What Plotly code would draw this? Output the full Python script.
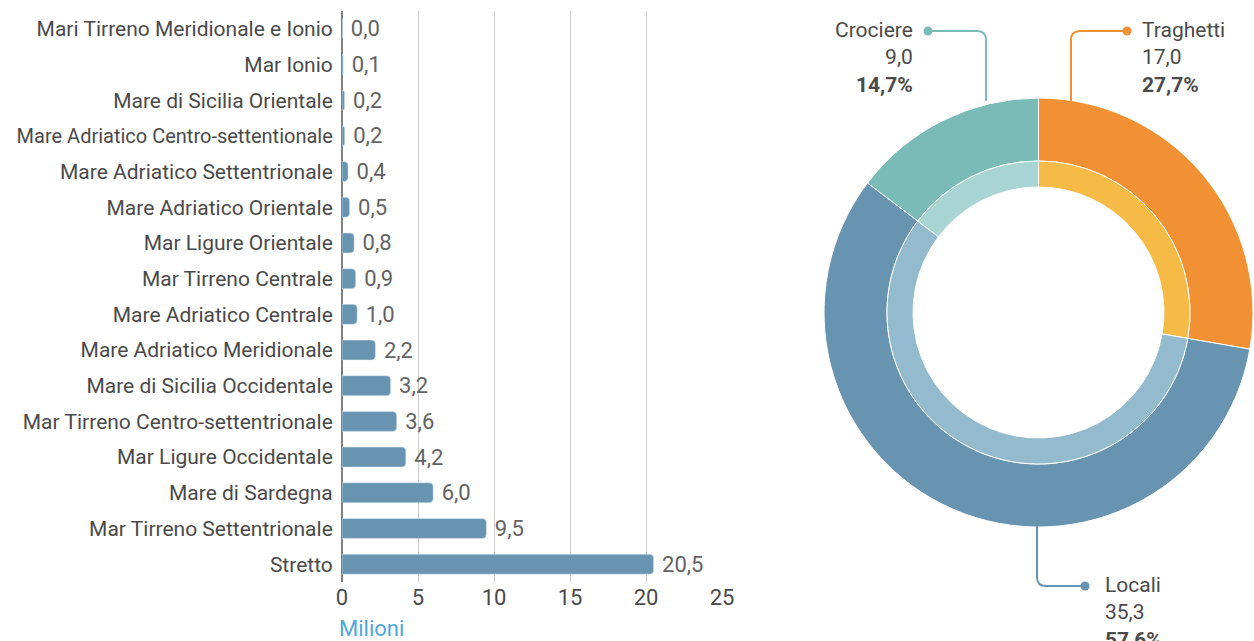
import plotly.graph_objects as go
import math

W, H = 1254, 641

categories = [
    "Mari Tirreno Meridionale e Ionio",
    "Mar Ionio",
    "Mare di Sicilia Orientale",
    "Mare Adriatico Centro-settentionale",
    "Mare Adriatico Settentrionale",
    "Mare Adriatico Orientale",
    "Mar Ligure Orientale",
    "Mar Tirreno Centrale",
    "Mare Adriatico Centrale",
    "Mare Adriatico Meridionale",
    "Mare di Sicilia Occidentale",
    "Mar Tirreno Centro-settentrionale",
    "Mar Ligure Occidentale",
    "Mare di Sardegna",
    "Mar Tirreno Settentrionale",
    "Stretto",
]
values = [0.02, 0.08, 0.17, 0.18, 0.4, 0.5, 0.8, 0.9, 1.0, 2.2, 3.2, 3.6, 4.2, 6.0, 9.5, 20.5]
value_labels = ["0,0", "0,1", "0,2", "0,2", "0,4", "0,5", "0,8", "0,9", "1,0", "2,2", "3,2", "3,6", "4,2", "6,0", "9,5", "20,5"]
x_ticks = [0, 5, 10, 15, 20, 25]

pie_labels = ["Traghetti", "Locali", "Crociere"]
pie_values = [17.0, 35.3, 9.0]
pie_value_text = ["17,0", "35,3", "9,0"]
pie_pct_text = ["27,7%", "57,6%", "14,7%"]
outer_colors = ["#F29134", "#6894B2", "#7ABBB7"]
inner_colors = ["#F6BA47", "#93BBCD", "#A8D5D3"]

FONT = "Roboto"
FS = 21
FN = 22
TXT = "#4a4a4a"

def px(x):
    return x / W

def py(y):
    return 1 - y / H

# the longest label is drawn slightly condensed, as in the original
tick_text = [f'<span style="font-size:20px">{c}</span>' if len(c) > 33 else c for c in categories]

fig = go.Figure()

fig.add_trace(go.Bar(
    y=categories, x=values, orientation="h",
    marker=dict(color="#6894B2", cornerradius=4),
    width=0.56,
    text=value_labels, texttemplate=" %{text}", textposition="outside", constraintext="none",
    textfont=dict(family=FONT, size=FN, color="#636363"),
    cliponaxis=False, showlegend=False, hoverinfo="skip",
))

# donut
cx, cy, R, Rm, Ri = 1038.5, 312.5, 214.5, 151.5, 125.5
fig.add_trace(go.Pie(
    labels=pie_labels, values=pie_values, sort=False, direction="clockwise",
    rotation=0, hole=Rm / R, textinfo="none", showlegend=False, automargin=False,
    marker=dict(colors=outer_colors, line=dict(color="white", width=1)),
    domain=dict(x=[px(cx - R), px(cx + R)], y=[py(cy + R), py(cy - R)]),
))
fig.add_trace(go.Pie(
    labels=pie_labels, values=pie_values, sort=False, direction="clockwise",
    rotation=0, hole=Ri / Rm, textinfo="none", showlegend=False, automargin=False,
    marker=dict(colors=inner_colors, line=dict(color="white", width=1)),
    domain=dict(x=[px(cx - Rm), px(cx + Rm)], y=[py(cy + Rm), py(cy - Rm)]),
))

def path(points_px, corner):
    (x0, y0), (xc, yc), (x1, y1) = points_px
    def toward(a, b, d):
        dx, dy = b[0] - a[0], b[1] - a[1]
        L = math.hypot(dx, dy)
        return (b[0] - dx / L * d, b[1] - dy / L * d)
    p1 = toward((x0, y0), (xc, yc), corner)
    p2 = toward((x1, y1), (xc, yc), corner)
    f = lambda p: f"{px(p[0])},{py(p[1])}"
    return f"M {f((x0, y0))} L {f(p1)} Q {f((xc, yc))} {f(p2)} L {f((x1, y1))}"

shapes = []
connectors = [
    (2, [(928, 31), (986, 31), (986, 101)], (928, 31)),
    (0, [(1127, 31), (1071, 31), (1071, 101)], (1127, 31)),
    (1, [(1037, 524), (1037, 586), (1085, 586)], (1085, 586)),
]
for i, pts, dot in connectors:
    col = outer_colors[i]
    shapes.append(dict(type="path", xref="paper", yref="paper", path=path(pts, 9),
                       line=dict(color=col, width=2)))
    r = 4.5
    shapes.append(dict(type="circle", xref="paper", yref="paper",
                       x0=px(dot[0] - r), x1=px(dot[0] + r), y0=py(dot[1] + r), y1=py(dot[1] - r),
                       fillcolor=col, line=dict(color=col, width=0)))

annotations = []
lab_pos = {
    2: (915, 30, "right"),
    0: (1140, 30, "left"),
    1: (1103, 585, "left"),
}
for i, (x, y, al) in lab_pos.items():
    txt = f"{pie_labels[i]}<br>{pie_value_text[i]}<br><b>{pie_pct_text[i]}</b>"
    annotations.append(dict(
        x=px(x), y=py(y - 14), xref="paper", yref="paper",
        xanchor=al, yanchor="top", align=al, showarrow=False, text=txt,
        font=dict(family=FONT, size=FS, color=TXT),
    ))

annotations.append(dict(
    x=px(337), y=py(628), xref="paper", yref="paper", xanchor="left", yanchor="middle",
    showarrow=False, text="Milioni", font=dict(family=FONT, size=22, color="#4EA6DC"),
))

fig.update_layout(
    width=W, height=H, autosize=False,
    margin=dict(l=0, r=0, t=0, b=0, pad=0, autoexpand=False),
    paper_bgcolor="white", plot_bgcolor="white",
    separators=",.",
    font=dict(family=FONT, size=FS, color=TXT),
    xaxis=dict(domain=[px(342), px(722)], range=[0, 25], tickvals=x_ticks,
               showgrid=True, gridcolor="#cccccc", gridwidth=1,
               zeroline=True, zerolinecolor="#808080", zerolinewidth=2,
               showline=False, ticks="", tickfont=dict(family=FONT, size=FN, color=TXT),
               fixedrange=True, automargin=False),
    yaxis=dict(domain=[py(582), py(11)], categoryorder="array", categoryarray=categories,
               tickmode="array", tickvals=categories, ticktext=tick_text,
               autorange="reversed", showgrid=False, ticks="outside", ticklen=4,
               tickcolor="rgba(0,0,0,0)", tickfont=dict(family=FONT, size=FS, color=TXT),
               fixedrange=True, automargin=False),
    shapes=shapes, annotations=annotations,
)

fig.write_html(
    "out.html",
    config={"displayModeBar": False, "responsive": False},
    post_script="document.documentElement.style.overflow='hidden';document.body.style.margin='0';document.body.style.overflow='hidden';",
)
